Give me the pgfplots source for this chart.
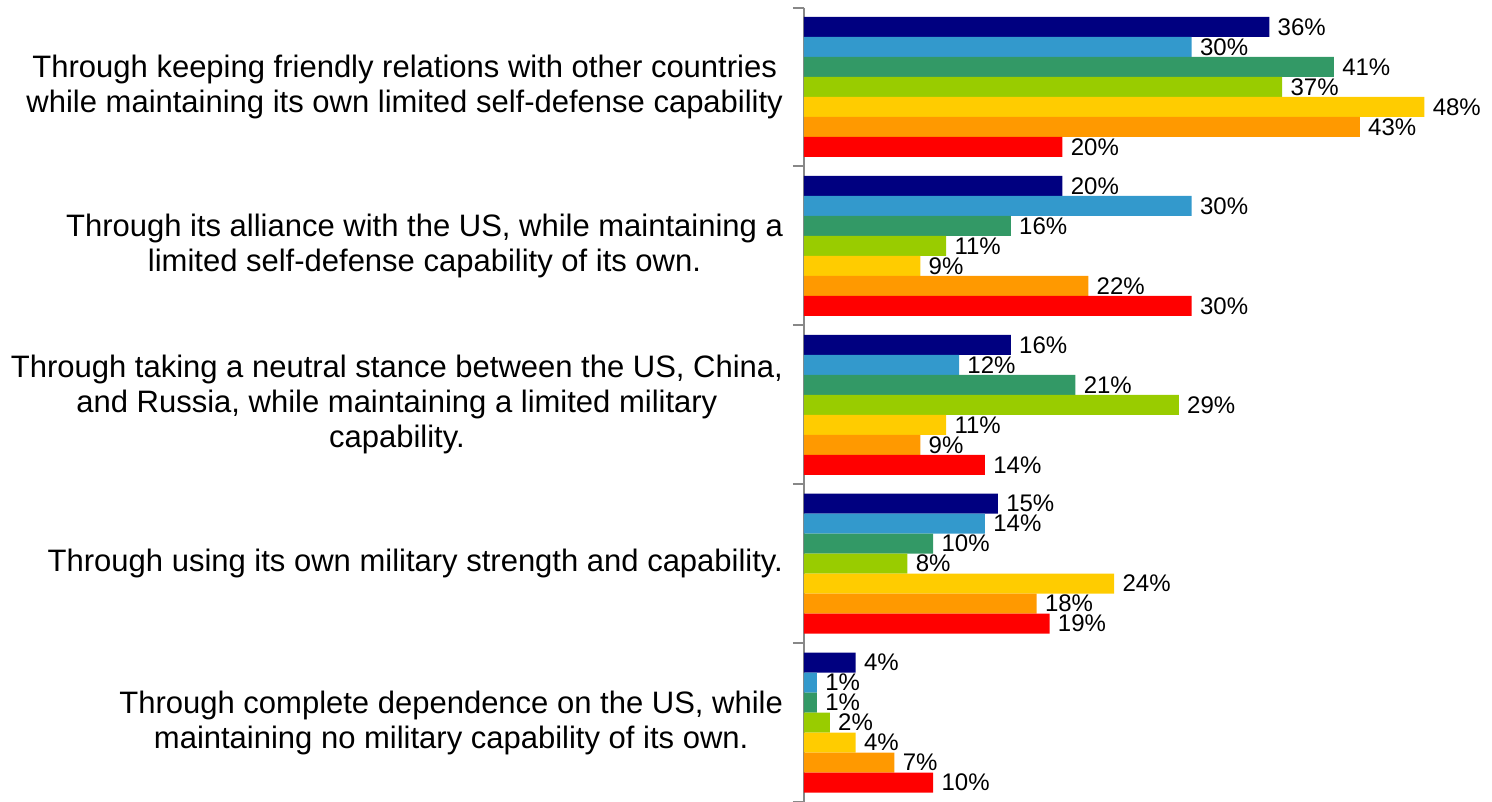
\documentclass[border=0pt]{standalone}
\usepackage{pgfplots}
\pgfplotsset{compat=1.18}
\usepackage{fontspec}
\setmainfont{Liberation Sans}

\definecolor{s1}{HTML}{000080}
\definecolor{s2}{HTML}{3399CC}
\definecolor{s3}{HTML}{339966}
\definecolor{s4}{HTML}{99CC00}
\definecolor{s5}{HTML}{FFCC00}
\definecolor{s6}{HTML}{FF9900}
\definecolor{s7}{HTML}{FF0000}
\definecolor{axgray}{HTML}{888888}

\begin{document}
\begin{tikzpicture}
\useasboundingbox (-402pt,0pt) rectangle (344pt,401pt);
\begin{axis}[
    scale only axis,
    width=342.5pt, height=397.25pt,
    xbar, bar width=10pt,
    xmin=0, xmax=53,
    ymin=-0.5, ymax=4.5,
    y dir=reverse,
    axis x line=none,
    axis y line=left,
    y axis line style={-, draw=axgray, line width=1pt},
    ytick={0,1,2,3,4},
    yticklabels={
        {Through keeping friendly relations with other countries\\while maintaining its own limited self-defense capability},
        {Through its alliance with the US, while maintaining a\\limited self-defense capability of its own.},
        {Through taking a neutral stance between the US, China,\\and Russia, while maintaining a limited military\\capability.},
        {Through using its own military strength and capability.},
        {Through complete dependence on the US, while\\maintaining no military capability of its own.}
    },
    yticklabel style={align=center, font=\fontsize{15.5}{17.5}\selectfont, xshift=-7pt},
    major tick length=0pt,
    minor ytick={-0.5,0.5,1.5,2.5,3.5,4.5},
    minor tick length=5.5pt,
    tick align=outside,
    tick style={draw=axgray, line width=1pt},
    /pgf/number format/assume math mode=true,
    nodes near coords={\pgfmathprintnumber{\pgfplotspointmeta}\%},
    every node near coord/.append style={font=\fontsize{12}{14}\selectfont, anchor=west, inner sep=1pt, xshift=3pt},
    clip=false,
]
\addplot[fill=s1, draw=none, bar shift=30pt] coordinates {(36,0) (20,1) (16,2) (15,3) (4,4)};
\addplot[fill=s2, draw=none, bar shift=20pt] coordinates {(30,0) (30,1) (12,2) (14,3) (1,4)};
\addplot[fill=s3, draw=none, bar shift=10pt] coordinates {(41,0) (16,1) (21,2) (10,3) (1,4)};
\addplot[fill=s4, draw=none, bar shift=0pt] coordinates {(37,0) (11,1) (29,2) (8,3) (2,4)};
\addplot[fill=s5, draw=none, bar shift=-10pt] coordinates {(48,0) (9,1) (11,2) (24,3) (4,4)};
\addplot[fill=s6, draw=none, bar shift=-20pt] coordinates {(43,0) (22,1) (9,2) (18,3) (7,4)};
\addplot[fill=s7, draw=none, bar shift=-30pt] coordinates {(20,0) (30,1) (14,2) (19,3) (10,4)};
\end{axis}
\end{tikzpicture}
\end{document}
